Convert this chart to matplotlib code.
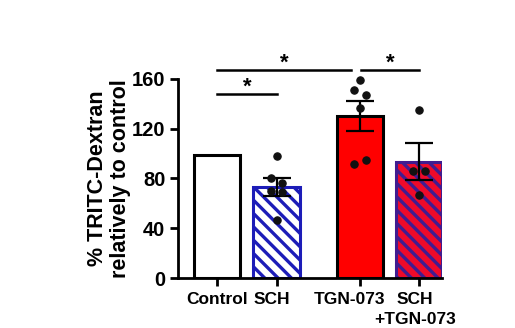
import matplotlib
matplotlib.use('Agg')
import matplotlib.pyplot as plt
import matplotlib.transforms as mtransforms
import numpy as np

# hatch spacing in Agg follows dpi, so render at 80 dpi and scale point sizes
DPI = 80
S = 100 / DPI

plt.rcParams['font.family'] = ['Liberation Sans', 'DejaVu Sans']
plt.rcParams['font.weight'] = 'bold'
plt.rcParams['hatch.linewidth'] = 2.4 * S

# data
groups = ["Control", "SCH", "TGN-073", "SCH\n+TGN-073"]
means = [99, 73, 130, 93.5]
sems = [0, 7, 12, 15]
points = [
    [],
    [98, 80, 76, 70, 69, 47],
    [159, 151, 147, 137, 92, 95],
    [135, 86, 86, 67],
]
point_offsets = [
    [],
    [0, -0.1, 0.1, -0.1, 0.1, 0],
    [0, -0.1, 0.1, 0, -0.1, 0.1],
    [0, -0.1, 0.1, 0],
]
xpos = [0, 1, 2.4, 3.4]

# significance brackets: (x start, x end, height)
sig_lines = [(0, 1, 148), (0, 2.26, 167), (2.42, 3.4, 167)]

face = ['white', 'white', '#ff0000', '#ee0a2a']
edge = ['black', '#1c1cb8', 'black', '#401c90']
hatch = [None, '\\\\', None, '\\\\']

fig = plt.figure(figsize=(515 / DPI, 328 / DPI), dpi=DPI)
ax = fig.add_axes([0.3456, 0.1524, 0.513, 0.607])

for i in range(4):
    ax.bar(xpos[i], means[i], width=0.78, color=face[i], edgecolor=edge[i],
           hatch=hatch[i], linewidth=2.2 * S, zorder=2)
    if sems[i] > 0:
        ax.errorbar(xpos[i], means[i], yerr=sems[i], fmt='none', ecolor='black',
                    elinewidth=1.6 * S, capsize=10 * S, capthick=1.6 * S, zorder=4)
    if points[i]:
        ax.scatter(np.array(point_offsets[i]) + xpos[i], points[i], s=28 * S * S,
                   color='#111111', zorder=5, clip_on=False)

for x0, x1, h in sig_lines:
    ax.plot([x0, x1], [h, h], color='black', lw=1.8 * S, clip_on=False)
    ax.text((x0 + x1) / 2, h + 1, '*', ha='center', va='baseline',
            fontsize=16 * S, fontweight='bold', clip_on=False)

ax.set_xlim(-0.66, 3.79)
ax.set_ylim(0, 160)
ax.set_yticks([0, 40, 80, 120, 160])
ax.set_xticks(xpos)
# first line of each name as tick label, a second line (if any) as its own text
first_lines = [g.split('\n')[0] for g in groups]
ax.set_xticklabels(first_lines, fontsize=12.5 * S, fontweight='bold')
ax.tick_params(axis='y', labelsize=14.5 * S, width=2 * S, length=6 * S, pad=3 * S)
ax.tick_params(axis='x', width=2 * S, length=6 * S, pad=4 * S)
for lab in ax.get_yticklabels():
    lab.set_fontweight('bold')

# nudge labels a little, as in the original
shifts = [0, -5, -10, -4]
for lab, dx in zip(ax.get_xticklabels(), shifts):
    lab.set_transform(lab.get_transform() +
                      mtransforms.ScaledTranslation(dx / DPI, 0, fig.dpi_scale_trans))
for x, g, dx in zip(xpos, groups, shifts):
    if '\n' in g:
        ax.annotate(g.split('\n')[1], xy=(x, 0), xycoords=('data', 'axes fraction'),
                    xytext=(dx * 72 / DPI, -30.5), textcoords='offset points',
                    ha='center', va='top', fontsize=12.5 * S, fontweight='bold')

ax.set_ylabel('% TRITC-Dextran\nrelatively to control', fontsize=15.5 * S,
              fontweight='bold', labelpad=1 * S, linespacing=1.1)

for s in ['top', 'right']:
    ax.spines[s].set_visible(False)
for s in ['left', 'bottom']:
    ax.spines[s].set_linewidth(2 * S)

fig.savefig('out.png', dpi=DPI)
